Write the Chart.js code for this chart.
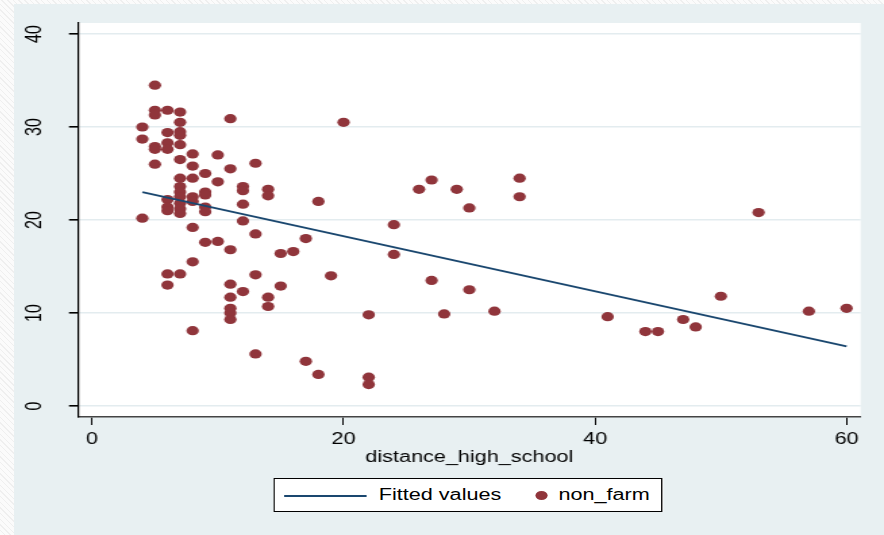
<!DOCTYPE html>
<html>
<head>
<meta charset="utf-8">
<script src="https://cdn.jsdelivr.net/npm/chart.js@4"></script>
<style>
  html, body { margin: 0; padding: 0; }
  body {
    width: 884px; height: 535px; overflow: hidden; position: relative;
    background: repeating-linear-gradient(45deg, #fbfbfb 0 3px, #efefef 3px 4px);
    font-family: 'Liberation Sans', Arial, sans-serif;
  }
  /* graph region is drawn narrow, then widened */
  #panel {
    position: absolute; left: 14px; top: 4px;
    width: 644px; height: 531px;
    background: #e8f0f2;
    transform: scaleX(1.3509); transform-origin: 0 0;
  }
  #wrap { position: absolute; left: 0; top: 0; width: 644px; height: 531px; }
  #legend {
    position: absolute; left: 192px; top: 474px; width: 288px; height: 34px;
    background: #fff; border: 1px solid #000; box-sizing: border-box;
    font-size: 16px; color: #000;
  }
  #legend .swatch { position: absolute; left: 7px; top: 16px; width: 61px; height: 2px; background: #1a476f; }
  #legend .t1 { position: absolute; left: 77px; top: 7px; }
  #legend .dot { position: absolute; left: 193px; top: 12px; width: 9px; height: 9px; border-radius: 50%; background: #90353b; }
  #legend .t2 { position: absolute; left: 210px; top: 7px; }
</style>
</head>
<body>
<div id="panel">
  <div id="wrap"><canvas id="scatterChart"></canvas></div>
  <div id="legend">
    <span class="swatch"></span><span class="t1">Fitted values</span>
    <span class="dot"></span><span class="t2">non_farm</span>
  </div>
</div>
<script>
// non_farm against distance_high_school
const nonFarmX = [
  4, 4, 4,
  5, 5, 5, 5, 5, 5,
  6, 6, 6, 6, 6, 6, 6, 6, 6,
  7, 7, 7, 7, 7, 7, 7, 7, 7, 7, 7, 7, 7, 7,
  8, 8, 8, 8, 8, 8, 8, 8,
  9, 9, 9, 9, 9, 9,
  10, 10, 10,
  11, 11, 11, 11, 11, 11, 11, 11,
  12, 12, 12, 12, 12,
  13, 13, 13, 13,
  14, 14, 14, 14,
  15, 15, 16, 17, 17, 18, 18, 19, 20,
  22, 22, 22, 24, 24, 26, 27, 27, 28, 29, 30, 30, 32, 34, 34,
  41, 44, 45, 47, 48, 50, 53, 57, 60
];
const nonFarmY = [
  30.0, 28.7, 20.2,
  34.5, 31.8, 31.3, 27.9, 27.6, 26.0,
  31.8, 29.4, 28.3, 27.6, 22.2, 21.4, 21.0, 14.2, 13.0,
  31.6, 30.5, 29.5, 29.1, 28.1, 26.5, 24.5, 23.6, 23.0, 22.5, 21.8, 21.2, 20.7, 14.2,
  27.1, 25.8, 24.5, 22.5, 22.0, 19.2, 15.5, 8.1,
  25.0, 23.0, 22.7, 21.4, 20.9, 17.6,
  27.0, 24.1, 17.7,
  30.9, 25.5, 16.8, 13.1, 11.7, 10.5, 10.0, 9.3,
  23.6, 23.15, 21.7, 19.9, 12.3,
  26.1, 18.5, 14.1, 5.6,
  23.3, 22.6, 11.7, 10.7,
  16.4, 12.9, 16.6, 18.0, 4.8, 22.0, 3.4, 14.0, 30.5,
  9.8, 3.1, 2.3, 19.5, 16.3, 23.3, 24.3, 13.5, 9.9, 23.3, 21.3, 12.5, 10.2, 24.5, 22.5,
  9.6, 8.0, 8.0, 9.3, 8.5, 11.8, 20.8, 10.2, 10.5
];

// fitted regression line end points
const fitX = [4, 60];
const fitY = [23.0, 6.4];

const xTicks = [0, 20, 40, 60];
const yTicks = [0, 10, 20, 30, 40];

const FONT = "'Liberation Sans', Arial, sans-serif";

const plotBackground = {
  id: 'plotBackground',
  beforeDraw(chart) {
    const { ctx, chartArea: a } = chart;
    ctx.save();
    ctx.fillStyle = '#ffffff';
    ctx.fillRect(a.left, a.top, a.right - a.left, a.bottom - a.top);
    ctx.restore();
  }
};

// vertical y tick labels
const yLabels = {
  id: 'yLabels',
  afterDraw(chart) {
    const { ctx, scales: { y } } = chart;
    ctx.save();
    ctx.font = '16px ' + FONT;
    ctx.fillStyle = '#000';
    ctx.textAlign = 'center';
    ctx.textBaseline = 'middle';
    yTicks.forEach(v => {
      ctx.save();
      ctx.translate(15.5, y.getPixelForValue(v));
      ctx.rotate(-Math.PI / 2);
      ctx.fillText(String(v), 0, 0);
      ctx.restore();
    });
    ctx.restore();
  }
};

new Chart(document.getElementById('scatterChart'), {
  type: 'scatter',
  data: {
    datasets: [
      {
        type: 'line',
        label: 'Fitted values',
        data: fitX.map((x, i) => ({ x, y: fitY[i] })),
        borderColor: '#1a476f',
        borderWidth: 1.8,
        pointRadius: 0,
        fill: false,
        order: 1
      },
      {
        label: 'non_farm',
        data: nonFarmX.map((x, i) => ({ x, y: nonFarmY[i] })),
        backgroundColor: '#90353b',
        borderWidth: 0,
        pointRadius: 4.6,
        order: 2
      }
    ]
  },
  options: {
    responsive: true,
    maintainAspectRatio: false,
    animation: false,
    layout: { padding: { top: 19, right: 17.3, bottom: 67.4, left: 0 } },
    plugins: {
      legend: { display: false },
      tooltip: { enabled: false }
    },
    scales: {
      x: {
        type: 'linear',
        min: -1.114,
        max: 61.114,
        afterBuildTicks: s => { s.ticks = xTicks.map(v => ({ value: v })); },
        afterFit: s => { s.height = 50.6; },
        grid: { drawOnChartArea: false, tickLength: 8, tickColor: '#000', lineWidth: 1 },
        border: { display: true, color: '#444', width: 1.6 },
        ticks: { font: { size: 16, family: FONT }, color: '#000', padding: 5, maxRotation: 0 },
        title: {
          display: true,
          text: 'distance_high_school',
          font: { size: 16, family: FONT },
          color: '#000',
          padding: 0
        }
      },
      y: {
        type: 'linear',
        min: -1.183,
        max: 41.183,
        afterBuildTicks: s => { s.ticks = yTicks.map(v => ({ value: v })); },
        afterFit: s => { s.width = 47.4; },
        grid: { color: '#e3ecef', lineWidth: 1.6, tickLength: 6.7, tickColor: '#000' },
        border: { display: true, color: '#000', width: 1.2 },
        ticks: { display: false }
      }
    }
  },
  plugins: [plotBackground, yLabels]
});
</script>
</body>
</html>
